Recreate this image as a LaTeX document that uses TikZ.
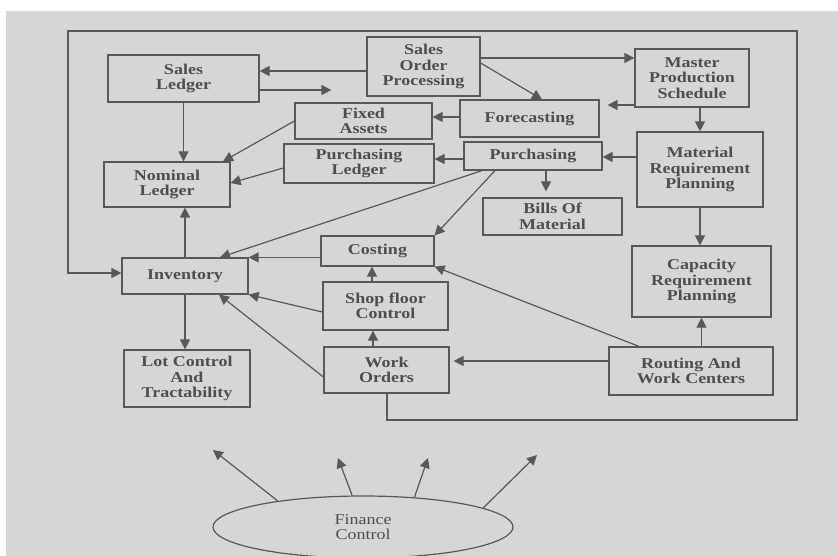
\documentclass[tikz,border=0pt]{standalone}
\usepackage{fontspec}
\setmainfont{Liberation Serif}[FakeStretch=1.2]
\usepackage{xcolor}
\usepackage{tikz}
\usetikzlibrary{arrows.meta,shapes.geometric}
\definecolor{scan}{RGB}{214,214,214}
\definecolor{ink}{RGB}{88,88,88}
\definecolor{inktext}{RGB}{78,78,78}

\begin{document}
\begin{tikzpicture}[
  x=1pt, y=-1pt,
  blockbox/.style={rectangle, draw=ink, line width=1.2pt, inner sep=0pt, align=center,
           text=inktext, font=\fontsize{15}{15.5}\selectfont\bfseries},
  arr/.style={draw=ink, line width=1.2pt,
           -{Triangle[length=10pt,width=10pt]}},   % filled heads like the scan
  plain/.style={draw=ink, line width=1.2pt}
]
  \useasboundingbox (0,0) rectangle (838,556);
  \fill[white] (0,0) rectangle (838,556);
  \fill[scan] (6,11) rectangle (838,556);

  \node[blockbox, minimum width=151pt, minimum height=47pt] (SL)  at (183.5,78.5) {Sales\\Ledger};
  \node[blockbox, minimum width=113pt, minimum height=59pt] (SOP) at (423.5,66.5) {Sales\\Order\\Processing};
  \node[blockbox, minimum width=114pt, minimum height=58pt] (MPS) at (692,78)     {Master\\Production\\Schedule};
  \node[blockbox, minimum width=137pt, minimum height=36pt] (FA)  at (363.5,121)  {Fixed\\Assets};
  \node[blockbox, minimum width=139pt, minimum height=37pt] (FC)  at (529.5,118.5){Forecasting};
  \node[blockbox, minimum width=150pt, minimum height=39pt] (PL)  at (359,163.5)  {Purchasing\\Ledger};
  \node[blockbox, minimum width=138pt, minimum height=28pt] (PU)  at (533,156)    {Purchasing};
  \node[blockbox, minimum width=126pt, minimum height=75pt] (MRP) at (700,169.5)  {Material\\Requirement\\Planning};
  \node[blockbox, minimum width=126pt, minimum height=45pt] (NL)  at (167,184.5)  {Nominal\\Ledger};
  \node[blockbox, minimum width=139pt, minimum height=37pt] (BOM) at (552.5,216.5){Bills Of\\Material};
  \node[blockbox, minimum width=113pt, minimum height=30pt] (CO)  at (377.5,251)  {Costing};
  \node[blockbox, minimum width=126pt, minimum height=36pt] (INV) at (185,276)    {Inventory};
  \node[blockbox, minimum width=139pt, minimum height=71pt] (CRP) at (701.5,281.5){Capacity\\Requirement\\Planning};
  \node[blockbox, minimum width=125pt, minimum height=48pt] (SFC) at (385.5,306)  {Shop floor\\Control};
  \node[blockbox, minimum width=125pt, minimum height=46pt] (WO)  at (386.5,370)  {Work\\Orders};
  \node[blockbox, minimum width=126pt, minimum height=57pt] (LOT) at (187,378.5)  {Lot Control\\And\\Tractability};
  \node[blockbox, minimum width=164pt, minimum height=48pt] (RWC) at (691,371)    {Routing And\\Work Centers};

  \node[ellipse, draw=ink, line width=1.2pt, minimum width=300pt, minimum height=62pt,
        inner sep=0pt, align=center, text=inktext,
        font=\fontsize{15}{15.5}\selectfont] (FIN) at (363,527) {Finance\\Control};

  % top row
  \draw[arr] (SOP.west |- 0,71) -- (SL.east |- 0,71);
  \draw[arr, shorten >=35pt] (SL.east |- 0,90) -- (SOP.west |- 0,90);
  \draw[arr] (SOP.east |- 0,58) -- (MPS.west |- 0,58);
  \draw[arr] (SOP.east |- 0,63) -- (FC.north -| 542,0);
  \draw[arr, shorten >=8pt] (MPS.west |- 0,105) -- (FC.east |- 0,105);
  \draw[arr] (MPS.south -| MRP.north) -- (MRP.north);

  % ledgers
  \draw[arr] (FC.west |- 0,117) -- (FA.east |- 0,117);
  \draw[arr] (PU.west |- 0,159) -- (PL.east |- 0,159);
  \draw[arr] (MRP.west |- 0,157) -- (PU.east |- 0,157);
  \draw[arr] (SL.south) -- (SL.south |- NL.north);
  \draw[arr] (FA.west) -- (NL.north -| 223,0);
  \draw[arr] (PL.west |- 0,168) -- (NL.east |- 0,183);
  \draw[arr, shorten >=6pt] (PU.south -| 546,0) -- (BOM.north -| 546,0);

  % shop floor
  \draw[arr] (PU.south -| 482,0) -- (INV.north -| 220,0);
  \draw[arr] (PU.south -| 495,0) -- (CO.north east);
  \draw[arr] (INV.north) -- (INV.north |- NL.south);
  \draw[arr] (CO.west |- INV.north east) -- (INV.north east);
  \draw[arr] (SFC.north -| 372,0) -- (CO.south -| 372,0);
  \draw[arr] (SFC.west |- 0,312) -- (INV.south east);
  \draw[arr] (WO.north -| 373,0) -- (SFC.south -| 373,0);
  \draw[arr] (WO.west |- 0,377) -- (INV.south -| 219,0);
  \draw[arr] (INV.south) -- (INV.south |- LOT.north);

  % planning side
  \draw[arr] (MRP.south) -- (MRP.south |- CRP.north);
  \draw[arr] (RWC.north -| CRP.south) -- (CRP.south);
  \draw[arr] (RWC.north -| 639,0) -- (CO.south east);
  \draw[arr, shorten >=4pt] (RWC.west |- 0,361) -- (WO.east |- 0,361);

  % outer loop back to inventory
  \draw[arr] (WO.south -| 387,0) -- (387,420) -- (797,420) -- (797,31)
             -- (68,31) -- (68,273) -- (INV.west |- 0,273);

  % finance control
  \coordinate (f1) at (213,450);
  \coordinate (f2) at (338,458);
  \coordinate (f3) at (428,458);
  \coordinate (f4) at (537,455);
  \draw[arr] (FIN.163) -- (f1);
  \draw[arr] (FIN.109) -- (f2);
  \draw[arr] (FIN.30)  -- (f3);
  \draw[arr] (FIN.9)   -- (f4);
\end{tikzpicture}
\end{document}
